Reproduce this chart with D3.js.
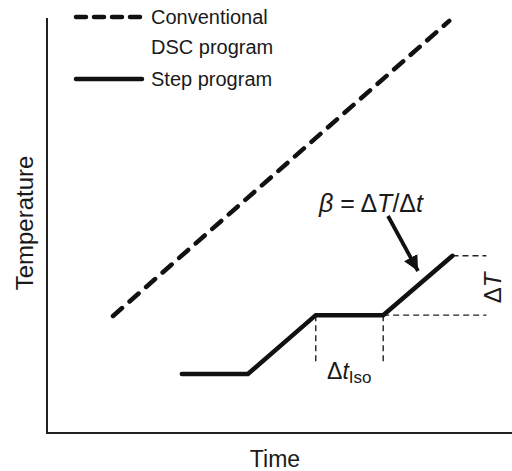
<!DOCTYPE html>
<html>
<head>
<meta charset="utf-8">
<script src="https://cdn.jsdelivr.net/npm/d3@7"></script>
<style>
  body { margin: 0; background: #fff; }
  text { font-family: "Liberation Sans", Arial, sans-serif; fill: #1a1a1a; }
</style>
</head>
<body>
<div id="chart"></div>
<script>
// time / temperature in arbitrary units
var convTime = [14.2, 86.5];
var convTemp = [28.2, 99.3];
var stepTime = [29.0, 43.2, 57.8, 72.3, 87.2];
var stepTemp = [14.2, 14.2, 28.4, 28.4, 42.7];
var refTimeEnd = 94.5;
var legendLabels = ["Conventional", "DSC program", "Step program"];

var width = 512, height = 471;
var svg = d3.select("#chart").append("svg")
    .attr("width", width)
    .attr("height", height);

var x = d3.scaleLinear().domain([0, 100]).range([47, 512]);
var y = d3.scaleLinear().domain([0, 100]).range([433, 18]);

var line = d3.line()
    .x(function (d) { return x(d[0]); })
    .y(function (d) { return y(d[1]); });

// axes (plain lines, no ticks)
svg.append("path")
    .attr("d", "M" + x(0) + "," + y(100) + "V" + y(0) + "H" + x(100))
    .attr("fill", "none")
    .attr("stroke", "#222")
    .attr("stroke-width", 2);

// thin dashed guides
var guide = svg.append("g")
    .attr("stroke", "#222")
    .attr("stroke-width", 1.4)
    .attr("stroke-dasharray", "6,4")
    .attr("fill", "none");
guide.append("path").attr("d", line([[stepTime[4], stepTemp[4]], [refTimeEnd, stepTemp[4]]]));
guide.append("path").attr("d", line([[stepTime[3], stepTemp[3]], [refTimeEnd, stepTemp[3]]]));
guide.append("path").attr("d", line([[stepTime[2], stepTemp[2]], [stepTime[2], 17]]));
guide.append("path").attr("d", line([[stepTime[3], stepTemp[3]], [stepTime[3], 17]]));

// conventional program
svg.append("path")
    .attr("d", line(convTime.map(function (t, i) { return [t, convTemp[i]]; })))
    .attr("fill", "none")
    .attr("stroke", "#111")
    .attr("stroke-width", 4.5)
    .attr("stroke-linecap", "round")
    .attr("stroke-dasharray", "12,10");

// step program
svg.append("path")
    .attr("d", line(stepTime.map(function (t, i) { return [t, stepTemp[i]]; })))
    .attr("fill", "none")
    .attr("stroke", "#111")
    .attr("stroke-width", 4.5)
    .attr("stroke-linecap", "round")
    .attr("stroke-linejoin", "miter");

// legend
svg.append("line")
    .attr("x1", 76).attr("x2", 142).attr("y1", 17).attr("y2", 17)
    .attr("stroke", "#111").attr("stroke-width", 4.5)
    .attr("stroke-linecap", "round").attr("stroke-dasharray", "10,8");
svg.append("line")
    .attr("x1", 76).attr("x2", 142).attr("y1", 79).attr("y2", 79)
    .attr("stroke", "#111").attr("stroke-width", 4.5)
    .attr("stroke-linecap", "round");
svg.selectAll(".leg")
    .data(legendLabels)
    .enter().append("text")
    .attr("class", "leg")
    .attr("x", 151)
    .attr("y", function (d, i) { return [24, 54, 86][i]; })
    .attr("font-size", 20)
    .text(function (d) { return d; });

// axis titles
svg.append("text")
    .attr("x", 275).attr("y", 467)
    .attr("text-anchor", "middle")
    .attr("font-size", 23)
    .text("Time");
svg.append("text")
    .attr("transform", "translate(33,223) rotate(-90)")
    .attr("text-anchor", "middle")
    .attr("font-size", 24)
    .text("Temperature");

// annotations
var beta = svg.append("text")
    .attr("x", 371).attr("y", 212)
    .attr("text-anchor", "middle")
    .attr("font-size", 25);
beta.append("tspan").attr("font-style", "italic").text("\u03B2");
beta.append("tspan").text(" = \u0394");
beta.append("tspan").attr("font-style", "italic").text("T");
beta.append("tspan").text("/\u0394");
beta.append("tspan").attr("font-style", "italic").text("t");

svg.append("defs").append("marker")
    .attr("id", "arrow")
    .attr("viewBox", "0 0 10 10")
    .attr("refX", 10).attr("refY", 5)
    .attr("markerWidth", 4).attr("markerHeight", 4)
    .attr("markerUnits", "strokeWidth")
    .attr("orient", "auto")
    .append("path")
    .attr("d", "M0,0L10,5L0,10z")
    .attr("fill", "#111");
svg.append("line")
    .attr("x1", 388).attr("y1", 216)
    .attr("x2", 418).attr("y2", 271)
    .attr("stroke", "#111").attr("stroke-width", 3.8)
    .attr("marker-end", "url(#arrow)");

var dT = svg.append("text")
    .attr("transform", "translate(501,288) rotate(-90)")
    .attr("text-anchor", "middle")
    .attr("font-size", 24);
dT.append("tspan").text("\u0394");
dT.append("tspan").attr("font-style", "italic").text("T");

var dt = svg.append("text")
    .attr("x", 327).attr("y", 379)
    .attr("font-size", 23);
dt.append("tspan").text("\u0394");
dt.append("tspan").attr("font-style", "italic").text("t");
dt.append("tspan").attr("font-size", 17).attr("dy", 4).text("Iso");
</script>
</body>
</html>
